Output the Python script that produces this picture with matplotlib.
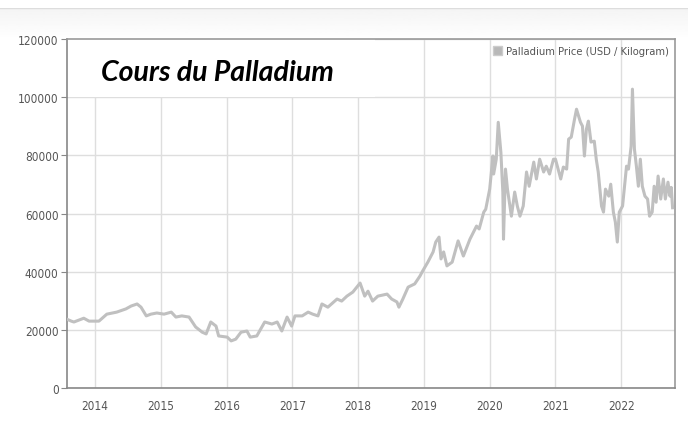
import numpy as np
import matplotlib
matplotlib.use("Agg")
import matplotlib.pyplot as plt
from matplotlib.patches import Rectangle, Patch

# palladium price, USD / kg (decimal years)
years = [2013.57, 2013.64, 2013.68, 2013.76, 2013.83, 2013.91, 2013.98, 2014.06, 2014.11, 2014.18,
         2014.33, 2014.47, 2014.55, 2014.64, 2014.70, 2014.78, 2014.85, 2014.94, 2015.05, 2015.16,
         2015.23, 2015.32, 2015.43, 2015.53, 2015.63, 2015.69, 2015.76, 2015.84, 2015.88, 2016.01,
         2016.07, 2016.14, 2016.22, 2016.31, 2016.36, 2016.46, 2016.58, 2016.69, 2016.77, 2016.84,
         2016.92, 2016.99, 2017.04, 2017.15, 2017.24, 2017.31, 2017.39, 2017.45, 2017.54, 2017.68,
         2017.75, 2017.83, 2017.92, 2018.03, 2018.10, 2018.15, 2018.22, 2018.30, 2018.44, 2018.51,
         2018.59, 2018.62, 2018.68, 2018.76, 2018.86, 2018.94, 2018.98,
         2019.06, 2019.14, 2019.18, 2019.23, 2019.26,
         2019.30, 2019.35, 2019.43, 2019.52, 2019.60, 2019.70, 2019.80, 2019.84, 2019.91, 2019.94,
         2020.00, 2020.05, 2020.06, 2020.10, 2020.13, 2020.17, 2020.20, 2020.21, 2020.24, 2020.27,
         2020.33, 2020.38, 2020.42, 2020.46, 2020.51, 2020.56, 2020.60, 2020.67, 2020.71, 2020.76,
         2020.82, 2020.86, 2020.91, 2020.97, 2021.00, 2021.08, 2021.12, 2021.17, 2021.20, 2021.24,
         2021.29, 2021.32, 2021.38, 2021.41, 2021.44, 2021.47, 2021.50, 2021.54, 2021.59, 2021.62,
         2021.65, 2021.70, 2021.73, 2021.76, 2021.81, 2021.84, 2021.88, 2021.91, 2021.94, 2021.97,
         2022.02, 2022.08, 2022.11, 2022.15, 2022.17, 2022.20, 2022.23, 2022.26, 2022.29, 2022.32,
         2022.36, 2022.40, 2022.43, 2022.47, 2022.50, 2022.53, 2022.56, 2022.60, 2022.64, 2022.67,
         2022.71, 2022.74, 2022.76, 2022.78]
price = [23700, 23000, 22700, 23400, 24000, 23000, 23000, 23000, 24000, 25400,
         26100, 27200, 28200, 28900, 27800, 24800, 25400, 25800, 25400, 26100,
         24400, 24800, 24400, 21000, 19200, 18600, 22700, 21300, 17900, 17500,
         16200, 16800, 19200, 19600, 17500, 17900, 22700, 22000, 22700, 19600,
         24400, 21300, 24800, 24800, 26100, 25400, 24800, 28900, 27800, 30600,
         29900, 31600, 33000, 36100, 31600, 33300, 29900, 31600, 32300, 30600,
         29600, 27800, 30600, 34700, 35800, 38500, 40200,
         43300, 46800, 50200, 51900, 44400,
         46800, 42000, 43300, 50600, 45400, 51200, 55700, 54700, 60500, 61500,
         68400, 79800, 73600, 78700, 91400, 81100, 67400, 51200, 75300, 68400,
         59100, 67400, 62600, 59100, 62600, 74300, 69400, 77700, 71900, 78700,
         74300, 76300, 73600, 78700, 78700, 71900, 76000, 75300, 85600, 86300,
         92500, 95900, 91400, 90100, 79800, 89000, 91800, 84600, 84900, 78700,
         74300, 62600, 60500, 68400, 66000, 70100, 60500, 57100, 50200, 60500,
         62600, 76300, 75300, 83200, 102800, 82200, 76300, 69400, 78700, 69400,
         66000, 65000, 59100, 60500, 69400, 63900, 72900, 65000, 71900, 65000,
         70800, 66000, 69000, 62000]

year_ticks = [2014, 2015, 2016, 2017, 2018, 2019, 2020, 2021, 2022]
y_ticks = [0, 20000, 40000, 60000, 80000, 100000, 120000]

fig = plt.figure(figsize=(6.88, 4.27), dpi=100)

# light header band at the top of the picture
band = fig.add_axes([0, 0.905, 1, 0.075])
band.imshow(np.linspace(0.955, 1.0, 50).reshape(-1, 1), cmap="gray", vmin=0, vmax=1,
            aspect="auto", extent=[0, 1, 0, 1])
band.axhline(1, color="#dddddd", lw=1)
band.axis("off")

ax = fig.add_axes([0.0974, 0.089, 0.884, 0.817])
ax.plot(years, price, color="#c0c0c0", lw=2.2, solid_joinstyle="round", zorder=3)

ax.set_xlim(2013.575, 2022.82)
ax.set_ylim(0, 120000)
ax.set_xticks(year_ticks)
ax.set_yticks(y_ticks)
ax.set_xticklabels([str(y) for y in year_ticks])
ax.grid(True, color="#dedede", lw=1)

lab_font = ["DejaVu Sans"]
for t in ax.get_xticklabels() + ax.get_yticklabels():
    t.set_family(lab_font)
    t.set_fontstretch("condensed")
    t.set_fontsize(8.5)
    t.set_color("#555555")
ax.tick_params(axis="x", length=0, pad=8)
ax.tick_params(axis="y", length=4, color="#888888", pad=2)

for side in ["left", "bottom"]:
    ax.spines[side].set_color("#888888")
    ax.spines[side].set_linewidth(1.2)
for side in ["top", "right"]:
    ax.spines[side].set_color("#999999")
    ax.spines[side].set_linewidth(1.2)

# white box behind the title
ax.add_patch(Rectangle((0, 0.833), 0.507, 0.167, transform=ax.transAxes,
                       facecolor="white", edgecolor="none", zorder=2))
ax.text(0.248, 0.905, "Cours du Palladium", transform=ax.transAxes,
        ha="center", va="center", fontsize=20.5, fontweight="bold", style="italic",
        family=["Lato", "DejaVu Sans"], color="black", zorder=4)

leg = ax.legend(handles=[Patch(facecolor="#b8b8b8", edgecolor="#cccccc")],
                labels=["Palladium Price (USD / Kilogram)"], loc="upper right",
                frameon=False, handlelength=0.8, handleheight=0.9, handletextpad=0.3,
                borderaxespad=0.2, prop={"family": lab_font, "size": 8, "stretch": "condensed"})
for t in leg.get_texts():
    t.set_color("#555555")

fig.savefig("out.png", dpi=100)
